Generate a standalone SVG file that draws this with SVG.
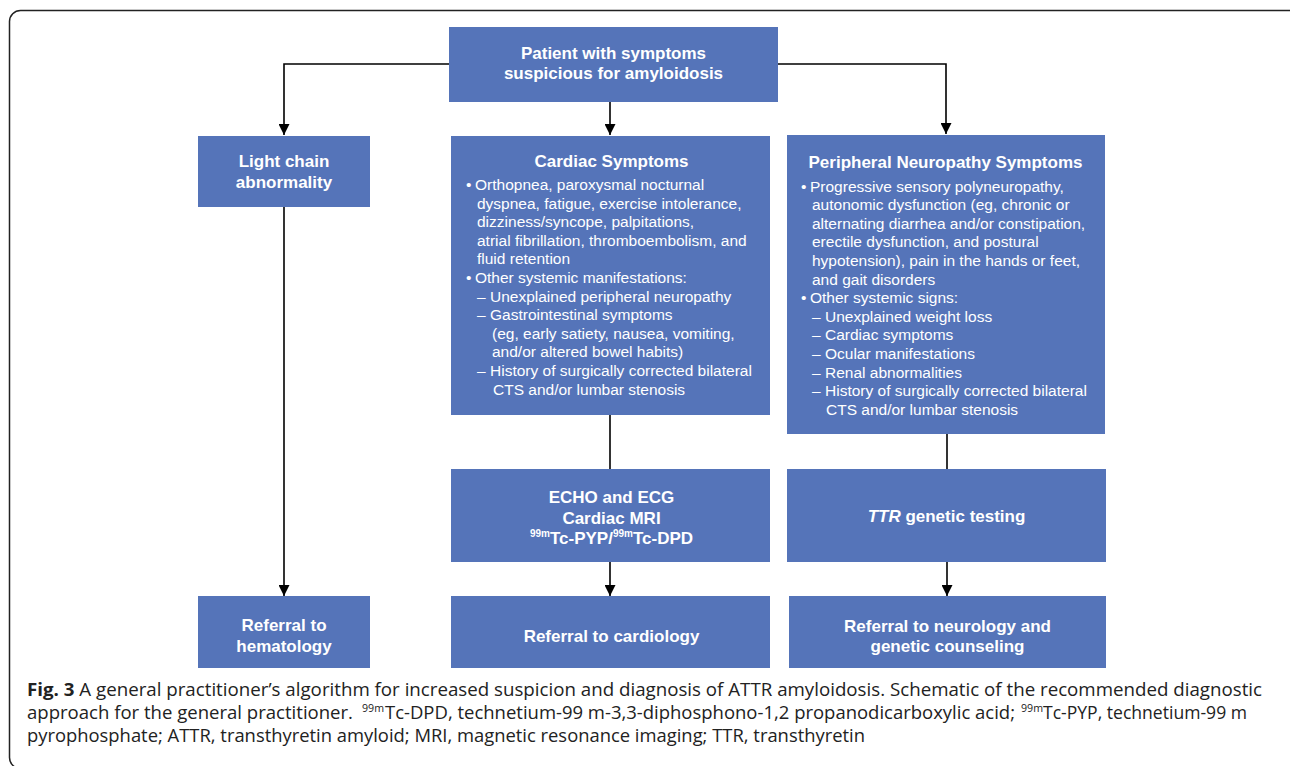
<svg xmlns="http://www.w3.org/2000/svg" width="1290" height="766" viewBox="0 0 1290 766">
<defs>
<marker id="ah" markerUnits="userSpaceOnUse" markerWidth="12" markerHeight="11" refX="11" refY="5.5" orient="auto">
<path d="M0,0 L11,5.5 L0,11 Z" fill="#000"/>
</marker>
<style>
.box{fill:#5574B9;}
.t{font-family:"Liberation Sans",Arial,sans-serif;font-weight:bold;font-size:17px;fill:#fff;text-anchor:middle;}
.b{font-family:"Liberation Sans",Arial,sans-serif;font-size:15.5px;fill:#fff;}
.c{font-family:"Open Sans","Noto Sans",sans-serif;font-size:18px;fill:#222;}
.sup{font-size:10px;}
.csup{font-family:"Open Sans","Noto Sans",sans-serif;font-size:11px;fill:#222;}
.ln{fill:none;stroke:#000;stroke-width:1.6;}
</style>
</defs>
<rect width="1290" height="766" fill="#fff"/>
<rect x="9.5" y="10.5" width="1290" height="758" rx="11" fill="none" stroke="#222" stroke-width="1.5"/>

<g id="connectors">
<path class="ln" d="M449,64 H284 V135" marker-end="url(#ah)"/>
<path class="ln" d="M778,64 H946 V134" marker-end="url(#ah)"/>
<path class="ln" d="M610,102 V135" marker-end="url(#ah)"/>
<path class="ln" d="M610,415 V469"/>
<path class="ln" d="M610,562 V596" marker-end="url(#ah)"/>
<path class="ln" d="M947,434 V469"/>
<path class="ln" d="M947,562 V596" marker-end="url(#ah)"/>
<path class="ln" d="M284,207 V596" marker-end="url(#ah)"/>
</g>

<g id="start">
<rect class="box" x="449" y="27" width="329" height="75"/>
<text class="t" x="613.5" y="58.5">Patient with symptoms</text>
<text class="t" x="613.5" y="79">suspicious for amyloidosis</text>
</g>

<g id="lightchain">
<rect class="box" x="198" y="136" width="172" height="71"/>
<text class="t" x="284" y="166.5">Light chain</text>
<text class="t" x="284" y="187.5">abnormality</text>
</g>

<g id="cardiac">
<rect class="box" x="451" y="136" width="319" height="279"/>
<text class="t" x="611.5" y="167">Cardiac Symptoms</text>
<text class="b" x="466" y="190">•</text>
<text class="b" x="475" y="190">Orthopnea, paroxysmal nocturnal</text>
<text class="b" x="477" y="208.6">dyspnea, fatigue, exercise intolerance,</text>
<text class="b" x="477" y="227.2">dizziness/syncope, palpitations,</text>
<text class="b" x="477" y="245.8">atrial fibrillation, thromboembolism, and</text>
<text class="b" x="477" y="264.4">fluid retention</text>
<text class="b" x="466" y="283">•</text>
<text class="b" x="475" y="283">Other systemic manifestations:</text>
<text class="b" x="477" y="301.6">–</text>
<text class="b" x="490" y="301.6">Unexplained peripheral neuropathy</text>
<text class="b" x="477" y="320.2">–</text>
<text class="b" x="490" y="320.2">Gastrointestinal symptoms</text>
<text class="b" x="492" y="338.8">(eg, early satiety, nausea, vomiting,</text>
<text class="b" x="492" y="357.4">and/or altered bowel habits)</text>
<text class="b" x="477" y="376">–</text>
<text class="b" x="490" y="376">History of surgically corrected bilateral</text>
<text class="b" x="493" y="394.6">CTS and/or lumbar stenosis</text>
</g>

<g id="neuropathy">
<rect class="box" x="787" y="135" width="318" height="299"/>
<text class="t" x="945.5" y="168">Peripheral Neuropathy Symptoms</text>
<text class="b" x="801" y="191.5">•</text>
<text class="b" x="810" y="191.5">Progressive sensory polyneuropathy,</text>
<text class="b" x="812" y="210.1">autonomic dysfunction (eg, chronic or</text>
<text class="b" x="812" y="228.7">alternating diarrhea and/or constipation,</text>
<text class="b" x="812" y="247.3">erectile dysfunction, and postural</text>
<text class="b" x="812" y="265.9">hypotension), pain in the hands or feet,</text>
<text class="b" x="812" y="284.5">and gait disorders</text>
<text class="b" x="801" y="303.1">•</text>
<text class="b" x="810" y="303.1">Other systemic signs:</text>
<text class="b" x="812" y="321.7">–</text>
<text class="b" x="825" y="321.7">Unexplained weight loss</text>
<text class="b" x="812" y="340.3">–</text>
<text class="b" x="825" y="340.3">Cardiac symptoms</text>
<text class="b" x="812" y="358.9">–</text>
<text class="b" x="825" y="358.9">Ocular manifestations</text>
<text class="b" x="812" y="377.5">–</text>
<text class="b" x="825" y="377.5">Renal abnormalities</text>
<text class="b" x="812" y="396.1">–</text>
<text class="b" x="825" y="396.1">History of surgically corrected bilateral</text>
<text class="b" x="826" y="414.7">CTS and/or lumbar stenosis</text>
</g>

<g id="tests">
<rect class="box" x="451" y="469" width="319" height="93"/>
<text class="t" x="611.5" y="503.3">ECHO and ECG</text>
<text class="t" x="611.5" y="524">Cardiac MRI</text>
<text class="t" x="611.5" y="544.3"><tspan class="sup" dy="-7">99m</tspan><tspan dy="7">Tc-PYP/</tspan><tspan class="sup" dy="-7">99m</tspan><tspan dy="7">Tc-DPD</tspan></text>
</g>

<g id="ttr">
<rect class="box" x="787" y="469" width="319" height="93"/>
<text class="t" x="946.5" y="521.7"><tspan font-style="italic">TTR</tspan> genetic testing</text>
</g>

<g id="hematology">
<rect class="box" x="198" y="596" width="172" height="72"/>
<text class="t" x="284" y="630.7">Referral to</text>
<text class="t" x="284" y="651.7">hematology</text>
</g>

<g id="cardiology">
<rect class="box" x="451" y="596" width="319" height="72"/>
<text class="t" x="611.5" y="641.7">Referral to cardiology</text>
</g>

<g id="neurology">
<rect class="box" x="789" y="596" width="317" height="72"/>
<text class="t" x="947.5" y="631.7">Referral to neurology and</text>
<text class="t" x="947.5" y="651.7">genetic counseling</text>
</g>

<g id="caption">
<text class="c" x="27" y="696" textLength="1235" lengthAdjust="spacingAndGlyphs"><tspan font-weight="bold">Fig. 3</tspan> A general practitioner’s algorithm for increased suspicion and diagnosis of ATTR amyloidosis. Schematic of the recommended diagnostic</text>
<text class="c" x="27" y="719" textLength="326" lengthAdjust="spacingAndGlyphs">approach for the general practitioner.</text>
<text class="csup" x="362" y="712" textLength="22" lengthAdjust="spacingAndGlyphs">99m</text>
<text class="c" x="385" y="719" textLength="630" lengthAdjust="spacingAndGlyphs">Tc-DPD, technetium-99 m-3,3-diphosphono-1,2 propanodicarboxylic acid;</text>
<text class="csup" x="1021" y="712" textLength="22" lengthAdjust="spacingAndGlyphs">99m</text>
<text class="c" x="1043" y="719" textLength="204" lengthAdjust="spacingAndGlyphs">Tc-PYP, technetium-99 m</text>
<text class="c" x="27" y="742" textLength="838" lengthAdjust="spacingAndGlyphs">pyrophosphate; ATTR, transthyretin amyloid; MRI, magnetic resonance imaging; TTR, transthyretin</text>
</g>
</svg>
